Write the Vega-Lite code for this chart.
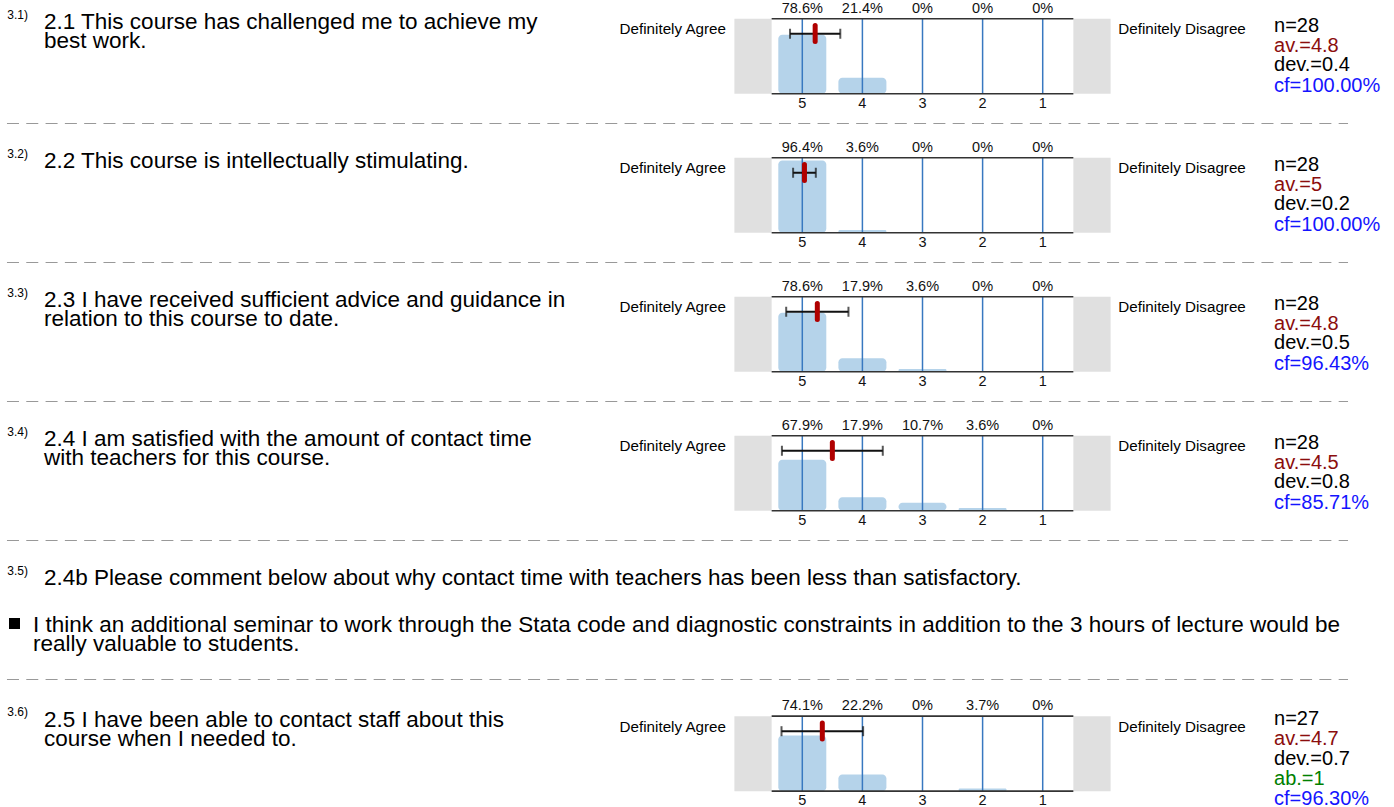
{
"$schema": "https://vega.github.io/schema/vega-lite/v6.json",
"padding": 0,
"autosize": {"type": "pad"},
"background": "white",
"spacing": 0,
"config": {"view": {"stroke": null}, "axis": {"disable": true}, "legend": {"disable": true}, "text": {"font": "Liberation Sans", "color": "#000000"}, "facet": {"spacing": 0}, "concat": {"spacing": 0}},
"data": {"values": [
{"kind":"q","sec":"3.1","num":"3.1)","text":"2.1 This course has challenged me to achieve my\nbest work.","agree":"Definitely Agree","disagree":"Definitely Disagree","mean":4.786,"sd":0.418},
{"kind":"q","sec":"3.2","num":"3.2)","text":"2.2 This course is intellectually stimulating.","agree":"Definitely Agree","disagree":"Definitely Disagree","mean":4.964,"sd":0.189},
{"kind":"q","sec":"3.3","num":"3.3)","text":"2.3 I have received sufficient advice and guidance in\nrelation to this course to date.","agree":"Definitely Agree","disagree":"Definitely Disagree","mean":4.75,"sd":0.518},
{"kind":"q","sec":"3.4","num":"3.4)","text":"2.4 I am satisfied with the amount of contact time\nwith teachers for this course.","agree":"Definitely Agree","disagree":"Definitely Disagree","mean":4.5,"sd":0.839},
{"kind":"q","sec":"3.5","num":"3.5)","text":"2.4b Please comment below about why contact time with teachers has been less than satisfactory."},
{"kind":"comment","sec":"3.5","text":"I think an additional seminar to work through the Stata code and diagnostic constraints in addition to the 3 hours of lecture would be\nreally valuable to students."},
{"kind":"q","sec":"3.6","num":"3.6)","text":"2.5 I have been able to contact staff about this\ncourse when I needed to.","agree":"Definitely Agree","disagree":"Definitely Disagree","mean":4.667,"sd":0.679},
{"kind":"bar","sec":"3.1","option":5,"frac":0.786},{"kind":"bar","sec":"3.1","option":4,"frac":0.214},{"kind":"bar","sec":"3.1","option":3,"frac":0},{"kind":"bar","sec":"3.1","option":2,"frac":0},{"kind":"bar","sec":"3.1","option":1,"frac":0},
{"kind":"bar","sec":"3.2","option":5,"frac":0.964},{"kind":"bar","sec":"3.2","option":4,"frac":0.036},{"kind":"bar","sec":"3.2","option":3,"frac":0},{"kind":"bar","sec":"3.2","option":2,"frac":0},{"kind":"bar","sec":"3.2","option":1,"frac":0},
{"kind":"bar","sec":"3.3","option":5,"frac":0.786},{"kind":"bar","sec":"3.3","option":4,"frac":0.179},{"kind":"bar","sec":"3.3","option":3,"frac":0.036},{"kind":"bar","sec":"3.3","option":2,"frac":0},{"kind":"bar","sec":"3.3","option":1,"frac":0},
{"kind":"bar","sec":"3.4","option":5,"frac":0.679},{"kind":"bar","sec":"3.4","option":4,"frac":0.179},{"kind":"bar","sec":"3.4","option":3,"frac":0.107},{"kind":"bar","sec":"3.4","option":2,"frac":0.036},{"kind":"bar","sec":"3.4","option":1,"frac":0},
{"kind":"bar","sec":"3.6","option":5,"frac":0.741},{"kind":"bar","sec":"3.6","option":4,"frac":0.222},{"kind":"bar","sec":"3.6","option":3,"frac":0},{"kind":"bar","sec":"3.6","option":2,"frac":0.037},{"kind":"bar","sec":"3.6","option":1,"frac":0},
{"kind":"stat","sec":"3.1","line":1,"stat":"n","label":"n=28"},{"kind":"stat","sec":"3.1","line":2,"stat":"av","label":"av.=4.8"},{"kind":"stat","sec":"3.1","line":3,"stat":"dev","label":"dev.=0.4"},{"kind":"stat","sec":"3.1","line":4,"stat":"cf","label":"cf=100.00%"},
{"kind":"stat","sec":"3.2","line":1,"stat":"n","label":"n=28"},{"kind":"stat","sec":"3.2","line":2,"stat":"av","label":"av.=5"},{"kind":"stat","sec":"3.2","line":3,"stat":"dev","label":"dev.=0.2"},{"kind":"stat","sec":"3.2","line":4,"stat":"cf","label":"cf=100.00%"},
{"kind":"stat","sec":"3.3","line":1,"stat":"n","label":"n=28"},{"kind":"stat","sec":"3.3","line":2,"stat":"av","label":"av.=4.8"},{"kind":"stat","sec":"3.3","line":3,"stat":"dev","label":"dev.=0.5"},{"kind":"stat","sec":"3.3","line":4,"stat":"cf","label":"cf=96.43%"},
{"kind":"stat","sec":"3.4","line":1,"stat":"n","label":"n=28"},{"kind":"stat","sec":"3.4","line":2,"stat":"av","label":"av.=4.5"},{"kind":"stat","sec":"3.4","line":3,"stat":"dev","label":"dev.=0.8"},{"kind":"stat","sec":"3.4","line":4,"stat":"cf","label":"cf=85.71%"},
{"kind":"stat","sec":"3.6","line":1,"stat":"n","label":"n=27"},{"kind":"stat","sec":"3.6","line":2,"stat":"av","label":"av.=4.7"},{"kind":"stat","sec":"3.6","line":3,"stat":"dev","label":"dev.=0.7"},{"kind":"stat","sec":"3.6","line":4,"stat":"ab","label":"ab.=1"},{"kind":"stat","sec":"3.6","line":5,"stat":"cf","label":"cf=96.30%"}
]},
"resolve": {"scale": {"x": "independent", "y": "independent", "color": "independent"}},
"vconcat": [
{
"transform": [{"filter": "datum.sec !== '3.6'"}],
"facet": {"row": {"field": "sec", "type": "nominal", "header": {"labels": false, "title": null}}},
"spacing": 0,
"bounds": "flush",
"spec": {
"width": 1394,
"height": 138.5,
"layer": [
{"transform":[{"filter":"datum.kind==='q' && isValid(datum.agree)"}],"mark":{"type":"rect","color":"#e0e0e0"},"encoding":{"x":{"datum":5.51,"type":"quantitative","scale":{"domain":[-4.845,18.349],"reverse":true,"nice":false,"zero":false,"padding":0}},"x2":{"datum":6.13},"y":{"datum":0,"type":"quantitative","scale":{"domain":[-0.61,1.23667],"nice":false,"zero":false,"padding":0}},"y2":{"datum":1}}},
{"transform":[{"filter":"datum.kind==='q' && isValid(datum.agree)"}],"mark":{"type":"rect","color":"#e0e0e0"},"encoding":{"x":{"datum":-0.13,"type":"quantitative","scale":{"domain":[-4.845,18.349],"reverse":true,"nice":false,"zero":false,"padding":0}},"x2":{"datum":0.49},"y":{"datum":0,"type":"quantitative","scale":{"domain":[-0.61,1.23667],"nice":false,"zero":false,"padding":0}},"y2":{"datum":1}}},
{"transform":[{"filter":"datum.kind==='bar'"}],"mark":{"type":"bar","width":48,"cornerRadiusEnd":4,"color":"#b5d3ea"},"encoding":{"x":{"field":"option","type":"quantitative","scale":{"domain":[-4.845,18.349],"reverse":true,"nice":false,"zero":false,"padding":0}},"y":{"field":"frac","type":"quantitative","scale":{"domain":[-0.61,1.23667],"nice":false,"zero":false,"padding":0}},"y2":{"datum":0}}},
{"transform":[{"filter":"datum.kind==='bar'"}],"mark":{"type":"rule","color":"#3878c0","strokeWidth":1.5},"encoding":{"x":{"field":"option","type":"quantitative","scale":{"domain":[-4.845,18.349],"reverse":true,"nice":false,"zero":false,"padding":0}},"y":{"datum":0,"type":"quantitative","scale":{"domain":[-0.61,1.23667],"nice":false,"zero":false,"padding":0}},"y2":{"datum":1}}},
{"transform":[{"filter":"datum.kind==='q' && isValid(datum.agree)"}],"mark":{"type":"rule","color":"#333333","strokeWidth":1.7},"encoding":{"x":{"datum":5.51,"type":"quantitative","scale":{"domain":[-4.845,18.349],"reverse":true,"nice":false,"zero":false,"padding":0}},"x2":{"datum":0.49},"y":{"datum":1,"type":"quantitative","scale":{"domain":[-0.61,1.23667],"nice":false,"zero":false,"padding":0}}}},
{"transform":[{"filter":"datum.kind==='q' && isValid(datum.agree)"}],"mark":{"type":"rule","color":"#333333","strokeWidth":1.7},"encoding":{"x":{"datum":5.51,"type":"quantitative","scale":{"domain":[-4.845,18.349],"reverse":true,"nice":false,"zero":false,"padding":0}},"x2":{"datum":0.49},"y":{"datum":0,"type":"quantitative","scale":{"domain":[-0.61,1.23667],"nice":false,"zero":false,"padding":0}}}},
{"transform":[{"filter":"datum.kind==='q' && isValid(datum.mean)"}],"mark":{"type":"errorbar","ticks":true,"size":10,"thickness":2,"color":"#111111"},"encoding":{"x":{"field":"mean","type":"quantitative","scale":{"domain":[-4.845,18.349],"reverse":true,"nice":false,"zero":false,"padding":0}},"xError":{"field":"sd"},"y":{"datum":0.8,"type":"quantitative","scale":{"domain":[-0.61,1.23667],"nice":false,"zero":false,"padding":0}}}},
{"transform":[{"filter":"datum.kind==='q' && isValid(datum.mean)"}],"mark":{"type":"rule","color":"#b00000","strokeWidth":5,"strokeCap":"round"},"encoding":{"x":{"field":"mean","type":"quantitative","scale":{"domain":[-4.845,18.349],"reverse":true,"nice":false,"zero":false,"padding":0}},"y":{"datum":0.91,"type":"quantitative","scale":{"domain":[-0.61,1.23667],"nice":false,"zero":false,"padding":0}},"y2":{"datum":0.6967}}},
{"transform":[{"filter":"datum.kind==='bar'"}],"mark":{"type":"text","fontSize":14.5,"baseline":"alphabetic","color":"#111111"},"encoding":{"x":{"field":"option","type":"quantitative","scale":{"domain":[-4.845,18.349],"reverse":true,"nice":false,"zero":false,"padding":0}},"y":{"datum":1.0767,"type":"quantitative","scale":{"domain":[-0.61,1.23667],"nice":false,"zero":false,"padding":0}},"text":{"field":"frac","type":"quantitative","format":".1~%"}}},
{"transform":[{"filter":"datum.kind==='bar'"}],"mark":{"type":"text","fontSize":14.5,"baseline":"alphabetic","color":"#111111"},"encoding":{"x":{"field":"option","type":"quantitative","scale":{"domain":[-4.845,18.349],"reverse":true,"nice":false,"zero":false,"padding":0}},"y":{"datum":-0.187,"type":"quantitative","scale":{"domain":[-0.61,1.23667],"nice":false,"zero":false,"padding":0}},"text":{"field":"option","type":"quantitative"}}},
{"transform":[{"filter":"datum.kind==='q' && isValid(datum.agree)"}],"mark":{"type":"text","align":"right","fontSize":15.2,"baseline":"alphabetic"},"encoding":{"x":{"datum":6.27,"type":"quantitative","scale":{"domain":[-4.845,18.349],"reverse":true,"nice":false,"zero":false,"padding":0}},"y":{"datum":0.7927,"type":"quantitative","scale":{"domain":[-0.61,1.23667],"nice":false,"zero":false,"padding":0}},"text":{"field":"agree"}}},
{"transform":[{"filter":"datum.kind==='q' && isValid(datum.disagree)"}],"mark":{"type":"text","align":"left","fontSize":15.2,"baseline":"alphabetic"},"encoding":{"x":{"datum":-0.258,"type":"quantitative","scale":{"domain":[-4.845,18.349],"reverse":true,"nice":false,"zero":false,"padding":0}},"y":{"datum":0.7927,"type":"quantitative","scale":{"domain":[-0.61,1.23667],"nice":false,"zero":false,"padding":0}},"text":{"field":"disagree"}}},
{"transform":[{"filter":"datum.kind==='q'"}],"mark":{"type":"text","align":"left","fontSize":12,"baseline":"alphabetic"},"encoding":{"x":{"datum":18.228,"type":"quantitative","scale":{"domain":[-4.845,18.349],"reverse":true,"nice":false,"zero":false,"padding":0}},"y":{"datum":1.0033,"type":"quantitative","scale":{"domain":[-0.61,1.23667],"nice":false,"zero":false,"padding":0}},"text":{"field":"num"}}},
{"transform":[{"filter":"datum.kind==='q'"}],"mark":{"type":"text","align":"left","fontSize":22.5,"baseline":"alphabetic","lineBreak":"\n","lineHeight":19},"encoding":{"x":{"datum":17.617,"type":"quantitative","scale":{"domain":[-4.845,18.349],"reverse":true,"nice":false,"zero":false,"padding":0}},"y":{"datum":0.8593,"type":"quantitative","scale":{"domain":[-0.61,1.23667],"nice":false,"zero":false,"padding":0}},"text":{"field":"text"}}},
{"transform":[{"filter":"datum.kind==='stat' && datum.line===1"}],"mark":{"type":"text","align":"left","fontSize":20,"baseline":"alphabetic"},"encoding":{"x":{"datum":-2.849,"type":"quantitative","scale":{"domain":[-4.845,18.349],"reverse":true,"nice":false,"zero":false,"padding":0}},"y":{"datum":0.83,"type":"quantitative","scale":{"domain":[-0.61,1.23667],"nice":false,"zero":false,"padding":0}},"text":{"field":"label"},"color":{"field":"stat","type":"nominal","legend":null,"scale":{"domain":["n","av","dev","ab","cf"],"range":["#000000","#8b0d0d","#000000","#008000","#1414ff"]}}}},
{"transform":[{"filter":"datum.kind==='stat' && datum.line===2"}],"mark":{"type":"text","align":"left","fontSize":20,"baseline":"alphabetic"},"encoding":{"x":{"datum":-2.849,"type":"quantitative","scale":{"domain":[-4.845,18.349],"reverse":true,"nice":false,"zero":false,"padding":0}},"y":{"datum":0.5633,"type":"quantitative","scale":{"domain":[-0.61,1.23667],"nice":false,"zero":false,"padding":0}},"text":{"field":"label"},"color":{"field":"stat","type":"nominal","legend":null,"scale":{"domain":["n","av","dev","ab","cf"],"range":["#000000","#8b0d0d","#000000","#008000","#1414ff"]}}}},
{"transform":[{"filter":"datum.kind==='stat' && datum.line===3"}],"mark":{"type":"text","align":"left","fontSize":20,"baseline":"alphabetic"},"encoding":{"x":{"datum":-2.849,"type":"quantitative","scale":{"domain":[-4.845,18.349],"reverse":true,"nice":false,"zero":false,"padding":0}},"y":{"datum":0.2967,"type":"quantitative","scale":{"domain":[-0.61,1.23667],"nice":false,"zero":false,"padding":0}},"text":{"field":"label"},"color":{"field":"stat","type":"nominal","legend":null,"scale":{"domain":["n","av","dev","ab","cf"],"range":["#000000","#8b0d0d","#000000","#008000","#1414ff"]}}}},
{"transform":[{"filter":"datum.kind==='stat' && datum.line===4"}],"mark":{"type":"text","align":"left","fontSize":20,"baseline":"alphabetic"},"encoding":{"x":{"datum":-2.849,"type":"quantitative","scale":{"domain":[-4.845,18.349],"reverse":true,"nice":false,"zero":false,"padding":0}},"y":{"datum":0.03,"type":"quantitative","scale":{"domain":[-0.61,1.23667],"nice":false,"zero":false,"padding":0}},"text":{"field":"label"},"color":{"field":"stat","type":"nominal","legend":null,"scale":{"domain":["n","av","dev","ab","cf"],"range":["#000000","#8b0d0d","#000000","#008000","#1414ff"]}}}},
{"transform":[{"filter":"datum.kind==='q' && datum.sec !== '3.6'"}],"mark":{"type":"rule","color":"#999999","strokeWidth":1.2,"strokeDash":[12,7.3]},"encoding":{"x":{"datum":18.233,"type":"quantitative","scale":{"domain":[-4.845,18.349],"reverse":true,"nice":false,"zero":false,"padding":0}},"x2":{"datum":-4.08},"y":{"datum":-0.3967,"type":"quantitative","scale":{"domain":[-0.61,1.23667],"nice":false,"zero":false,"padding":0}}}},
{"transform":[{"filter":"datum.kind==='comment'"}],"mark":{"type":"point","shape":"square","filled":true,"size":121,"color":"#000000","opacity":1},"encoding":{"x":{"datum":18.108,"type":"quantitative","scale":{"domain":[-4.845,18.349],"reverse":true,"nice":false,"zero":false,"padding":0}},"y":{"datum":0.35,"type":"quantitative","scale":{"domain":[-0.61,1.23667],"nice":false,"zero":false,"padding":0}}}},
{"transform":[{"filter":"datum.kind==='comment'"}],"mark":{"type":"text","align":"left","fontSize":22.5,"baseline":"alphabetic","lineBreak":"\n","lineHeight":19},"encoding":{"x":{"datum":17.80,"type":"quantitative","scale":{"domain":[-4.845,18.349],"reverse":true,"nice":false,"zero":false,"padding":0}},"y":{"datum":0.2433,"type":"quantitative","scale":{"domain":[-0.61,1.23667],"nice":false,"zero":false,"padding":0}},"text":{"field":"text"}}}
]
}
},
{
"transform": [{"filter": "datum.sec === '3.6'"}],
"width": 1394,
"height": 114.5,
"layer": [
{"transform":[{"filter":"datum.kind==='q' && isValid(datum.agree)"}],"mark":{"type":"rect","color":"#e0e0e0"},"encoding":{"x":{"datum":5.51,"type":"quantitative","scale":{"domain":[-4.845,18.349],"reverse":true,"nice":false,"zero":false,"padding":0}},"x2":{"datum":6.13},"y":{"datum":0,"type":"quantitative","scale":{"domain":[-0.2573,1.2693],"nice":false,"zero":false,"padding":0}},"y2":{"datum":1}}},
{"transform":[{"filter":"datum.kind==='q' && isValid(datum.agree)"}],"mark":{"type":"rect","color":"#e0e0e0"},"encoding":{"x":{"datum":-0.13,"type":"quantitative","scale":{"domain":[-4.845,18.349],"reverse":true,"nice":false,"zero":false,"padding":0}},"x2":{"datum":0.49},"y":{"datum":0,"type":"quantitative","scale":{"domain":[-0.2573,1.2693],"nice":false,"zero":false,"padding":0}},"y2":{"datum":1}}},
{"transform":[{"filter":"datum.kind==='bar'"}],"mark":{"type":"bar","width":48,"cornerRadiusEnd":4,"color":"#b5d3ea"},"encoding":{"x":{"field":"option","type":"quantitative","scale":{"domain":[-4.845,18.349],"reverse":true,"nice":false,"zero":false,"padding":0}},"y":{"field":"frac","type":"quantitative","scale":{"domain":[-0.2573,1.2693],"nice":false,"zero":false,"padding":0}},"y2":{"datum":0}}},
{"transform":[{"filter":"datum.kind==='bar'"}],"mark":{"type":"rule","color":"#3878c0","strokeWidth":1.5},"encoding":{"x":{"field":"option","type":"quantitative","scale":{"domain":[-4.845,18.349],"reverse":true,"nice":false,"zero":false,"padding":0}},"y":{"datum":0,"type":"quantitative","scale":{"domain":[-0.2573,1.2693],"nice":false,"zero":false,"padding":0}},"y2":{"datum":1}}},
{"transform":[{"filter":"datum.kind==='q' && isValid(datum.agree)"}],"mark":{"type":"rule","color":"#333333","strokeWidth":1.7},"encoding":{"x":{"datum":5.51,"type":"quantitative","scale":{"domain":[-4.845,18.349],"reverse":true,"nice":false,"zero":false,"padding":0}},"x2":{"datum":0.49},"y":{"datum":1,"type":"quantitative","scale":{"domain":[-0.2573,1.2693],"nice":false,"zero":false,"padding":0}}}},
{"transform":[{"filter":"datum.kind==='q' && isValid(datum.agree)"}],"mark":{"type":"rule","color":"#333333","strokeWidth":1.7},"encoding":{"x":{"datum":5.51,"type":"quantitative","scale":{"domain":[-4.845,18.349],"reverse":true,"nice":false,"zero":false,"padding":0}},"x2":{"datum":0.49},"y":{"datum":0,"type":"quantitative","scale":{"domain":[-0.2573,1.2693],"nice":false,"zero":false,"padding":0}}}},
{"transform":[{"filter":"datum.kind==='q' && isValid(datum.mean)"}],"mark":{"type":"errorbar","ticks":true,"size":10,"thickness":2,"color":"#111111"},"encoding":{"x":{"field":"mean","type":"quantitative","scale":{"domain":[-4.845,18.349],"reverse":true,"nice":false,"zero":false,"padding":0}},"xError":{"field":"sd"},"y":{"datum":0.8,"type":"quantitative","scale":{"domain":[-0.2573,1.2693],"nice":false,"zero":false,"padding":0}}}},
{"transform":[{"filter":"datum.kind==='q' && isValid(datum.mean)"}],"mark":{"type":"rule","color":"#b00000","strokeWidth":5,"strokeCap":"round"},"encoding":{"x":{"field":"mean","type":"quantitative","scale":{"domain":[-4.845,18.349],"reverse":true,"nice":false,"zero":false,"padding":0}},"y":{"datum":0.91,"type":"quantitative","scale":{"domain":[-0.2573,1.2693],"nice":false,"zero":false,"padding":0}},"y2":{"datum":0.6967}}},
{"transform":[{"filter":"datum.kind==='bar'"}],"mark":{"type":"text","fontSize":14.5,"baseline":"alphabetic","color":"#111111"},"encoding":{"x":{"field":"option","type":"quantitative","scale":{"domain":[-4.845,18.349],"reverse":true,"nice":false,"zero":false,"padding":0}},"y":{"datum":1.0767,"type":"quantitative","scale":{"domain":[-0.2573,1.2693],"nice":false,"zero":false,"padding":0}},"text":{"field":"frac","type":"quantitative","format":".1~%"}}},
{"transform":[{"filter":"datum.kind==='bar'"}],"mark":{"type":"text","fontSize":14.5,"baseline":"alphabetic","color":"#111111"},"encoding":{"x":{"field":"option","type":"quantitative","scale":{"domain":[-4.845,18.349],"reverse":true,"nice":false,"zero":false,"padding":0}},"y":{"datum":-0.187,"type":"quantitative","scale":{"domain":[-0.2573,1.2693],"nice":false,"zero":false,"padding":0}},"text":{"field":"option","type":"quantitative"}}},
{"transform":[{"filter":"datum.kind==='q' && isValid(datum.agree)"}],"mark":{"type":"text","align":"right","fontSize":15.2,"baseline":"alphabetic"},"encoding":{"x":{"datum":6.27,"type":"quantitative","scale":{"domain":[-4.845,18.349],"reverse":true,"nice":false,"zero":false,"padding":0}},"y":{"datum":0.7927,"type":"quantitative","scale":{"domain":[-0.2573,1.2693],"nice":false,"zero":false,"padding":0}},"text":{"field":"agree"}}},
{"transform":[{"filter":"datum.kind==='q' && isValid(datum.disagree)"}],"mark":{"type":"text","align":"left","fontSize":15.2,"baseline":"alphabetic"},"encoding":{"x":{"datum":-0.258,"type":"quantitative","scale":{"domain":[-4.845,18.349],"reverse":true,"nice":false,"zero":false,"padding":0}},"y":{"datum":0.7927,"type":"quantitative","scale":{"domain":[-0.2573,1.2693],"nice":false,"zero":false,"padding":0}},"text":{"field":"disagree"}}},
{"transform":[{"filter":"datum.kind==='q'"}],"mark":{"type":"text","align":"left","fontSize":12,"baseline":"alphabetic"},"encoding":{"x":{"datum":18.228,"type":"quantitative","scale":{"domain":[-4.845,18.349],"reverse":true,"nice":false,"zero":false,"padding":0}},"y":{"datum":1.0033,"type":"quantitative","scale":{"domain":[-0.2573,1.2693],"nice":false,"zero":false,"padding":0}},"text":{"field":"num"}}},
{"transform":[{"filter":"datum.kind==='q'"}],"mark":{"type":"text","align":"left","fontSize":22.5,"baseline":"alphabetic","lineBreak":"\n","lineHeight":19},"encoding":{"x":{"datum":17.617,"type":"quantitative","scale":{"domain":[-4.845,18.349],"reverse":true,"nice":false,"zero":false,"padding":0}},"y":{"datum":0.8593,"type":"quantitative","scale":{"domain":[-0.2573,1.2693],"nice":false,"zero":false,"padding":0}},"text":{"field":"text"}}},
{"transform":[{"filter":"datum.kind==='stat' && datum.line===1"}],"mark":{"type":"text","align":"left","fontSize":20,"baseline":"alphabetic"},"encoding":{"x":{"datum":-2.849,"type":"quantitative","scale":{"domain":[-4.845,18.349],"reverse":true,"nice":false,"zero":false,"padding":0}},"y":{"datum":0.8827,"type":"quantitative","scale":{"domain":[-0.2573,1.2693],"nice":false,"zero":false,"padding":0}},"text":{"field":"label"},"color":{"field":"stat","type":"nominal","legend":null,"scale":{"domain":["n","av","dev","ab","cf"],"range":["#000000","#8b0d0d","#000000","#008000","#1414ff"]}}}},
{"transform":[{"filter":"datum.kind==='stat' && datum.line===2"}],"mark":{"type":"text","align":"left","fontSize":20,"baseline":"alphabetic"},"encoding":{"x":{"datum":-2.849,"type":"quantitative","scale":{"domain":[-4.845,18.349],"reverse":true,"nice":false,"zero":false,"padding":0}},"y":{"datum":0.616,"type":"quantitative","scale":{"domain":[-0.2573,1.2693],"nice":false,"zero":false,"padding":0}},"text":{"field":"label"},"color":{"field":"stat","type":"nominal","legend":null,"scale":{"domain":["n","av","dev","ab","cf"],"range":["#000000","#8b0d0d","#000000","#008000","#1414ff"]}}}},
{"transform":[{"filter":"datum.kind==='stat' && datum.line===3"}],"mark":{"type":"text","align":"left","fontSize":20,"baseline":"alphabetic"},"encoding":{"x":{"datum":-2.849,"type":"quantitative","scale":{"domain":[-4.845,18.349],"reverse":true,"nice":false,"zero":false,"padding":0}},"y":{"datum":0.3493,"type":"quantitative","scale":{"domain":[-0.2573,1.2693],"nice":false,"zero":false,"padding":0}},"text":{"field":"label"},"color":{"field":"stat","type":"nominal","legend":null,"scale":{"domain":["n","av","dev","ab","cf"],"range":["#000000","#8b0d0d","#000000","#008000","#1414ff"]}}}},
{"transform":[{"filter":"datum.kind==='stat' && datum.line===4"}],"mark":{"type":"text","align":"left","fontSize":20,"baseline":"alphabetic"},"encoding":{"x":{"datum":-2.849,"type":"quantitative","scale":{"domain":[-4.845,18.349],"reverse":true,"nice":false,"zero":false,"padding":0}},"y":{"datum":0.0827,"type":"quantitative","scale":{"domain":[-0.2573,1.2693],"nice":false,"zero":false,"padding":0}},"text":{"field":"label"},"color":{"field":"stat","type":"nominal","legend":null,"scale":{"domain":["n","av","dev","ab","cf"],"range":["#000000","#8b0d0d","#000000","#008000","#1414ff"]}}}},
{"transform":[{"filter":"datum.kind==='stat' && datum.line===5"}],"mark":{"type":"text","align":"left","fontSize":20,"baseline":"alphabetic"},"encoding":{"x":{"datum":-2.849,"type":"quantitative","scale":{"domain":[-4.845,18.349],"reverse":true,"nice":false,"zero":false,"padding":0}},"y":{"datum":-0.184,"type":"quantitative","scale":{"domain":[-0.2573,1.2693],"nice":false,"zero":false,"padding":0}},"text":{"field":"label"},"color":{"field":"stat","type":"nominal","legend":null,"scale":{"domain":["n","av","dev","ab","cf"],"range":["#000000","#8b0d0d","#000000","#008000","#1414ff"]}}}}
]
}
]
}
